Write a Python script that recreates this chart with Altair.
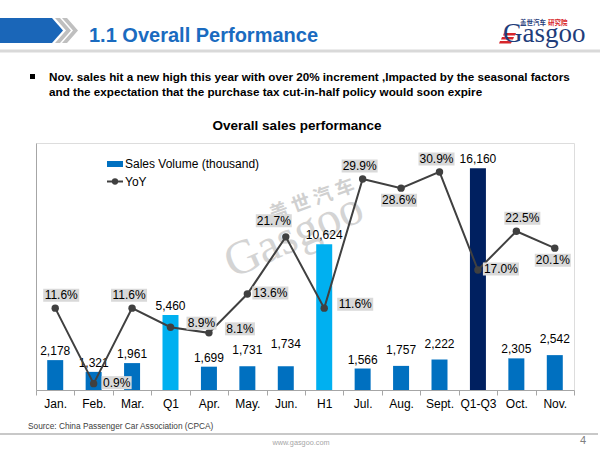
import altair as alt
import pandas as pd

# ---------------- data ----------------
categories = ["Jan.", "Feb.", "Mar.", "Q1", "Apr.", "May.", "Jun.", "H1",
              "Jul.", "Aug.", "Sept.", "Q1-Q3", "Oct.", "Nov."]
sales_volume = [2178, 1321, 1961, 5460, 1699, 1731, 1734, 10624,
                1566, 1757, 2222, 16160, 2305, 2542]
yoy_percent = [11.6, 0.9, 11.6, 8.9, 8.1, 13.6, 21.7, 11.6,
               29.9, 28.6, 30.9, 17.0, 22.5, 20.1]
period_type = ["Month", "Month", "Month", "Cumulative", "Month", "Month", "Month", "Cumulative",
               "Month", "Month", "Month", "YTD", "Month", "Month"]

# ---------------- label placement styles ----------------
yoy_label_place = ["aboveR", "right", "above", "rightF", "rightF", "right", "aboveL", "rightF",
                   "above", "below", "above", "right", "aboveR", "below"]
sales_label_lift = ["near", "near", "near", "near", "near", "mid", "far", "near",
                    "near", "mid", "mid", "near", "near", "mid"]
PLACE_OFFSETS = {"above": (-3, -13), "aboveR": (6, -13), "aboveL": (-12, -16),
                 "below": (-2, 12), "right": (23, -1), "rightF": (31, -4)}
LIFT_OFFSETS = {"near": -9, "mid": -16, "far": -22}

df = pd.DataFrame({
    "cat": categories,
    "sales": sales_volume,
    "yoy": [v / 100 for v in yoy_percent],
    "ptype": period_type,
    "yoy_label": [f"{v:.1f}%" for v in yoy_percent],
    "place": yoy_label_place,
    "lift": sales_label_lift,
})
df["nch"] = df["yoy_label"].str.len().astype(str)

FONT = "Liberation Sans"
OX, OY = 36, 143          # plot origin on the page
W, H = 538, 247           # plot area

x_enc = alt.X("cat:N", sort=categories,
              scale=alt.Scale(domain=categories, paddingInner=0, paddingOuter=0),
              axis=alt.Axis(title=None, labelAngle=0, labelFontSize=12, labelColor="#000000",
                            labelFont=FONT, labelPadding=3, domainColor="#A6A6A6",
                            tickColor="#A6A6A6", tickSize=5, tickBand="extent", grid=False))

y_sales_axis = alt.Y("sales:Q", scale=alt.Scale(domain=[0, 18000], nice=False),
                     axis=alt.Axis(title=None, labels=False, ticks=False, grid=False,
                                   domainColor="#A6A6A6"))
y_sales = alt.Y("sales:Q", scale=alt.Scale(domain=[0, 18000], nice=False), axis=None)
y_yoy = alt.Y("yoy:Q", scale=alt.Scale(domain=[0, 0.35], nice=False), axis=None)

base = alt.Chart(df)

bars = base.mark_bar(size=16).encode(
    x=x_enc, y=y_sales_axis,
    color=alt.Color("ptype:N", legend=None,
                    scale=alt.Scale(domain=["Month", "Cumulative", "YTD"],
                                    range=["#0070C0", "#00B0F0", "#002060"])))

bar_label_layers = []
for lift, dy in LIFT_OFFSETS.items():
    bar_label_layers.append(
        base.transform_filter(alt.datum.lift == lift)
        .mark_text(fontSize=12, font=FONT, color="#000000", dy=dy, baseline="middle")
        .encode(x=x_enc, y=y_sales, text=alt.Text("sales:Q", format=",")))

line = base.mark_line(color="#404040", strokeWidth=2).encode(x=x_enc, y=y_yoy)
dots = base.mark_point(filled=True, size=55, color="#404040", opacity=1).encode(x=x_enc, y=y_yoy)

box4 = "M-15,-6.5L15,-6.5L15,6.5L-15,6.5Z"
box5 = "M-18,-6.5L18,-6.5L18,6.5L-18,6.5Z"
yoy_label_layers = []
for place, (dx, dy) in PLACE_OFFSETS.items():
    sub = base.transform_filter(alt.datum.place == place)
    yoy_label_layers.append(
        sub.mark_point(size=4, filled=True, color="#D9D9D9", fill="#D9D9D9", opacity=1,
                       strokeWidth=0, xOffset=dx, yOffset=dy)
        .encode(x=x_enc, y=y_yoy,
                shape=alt.Shape("nch:N", legend=None,
                                scale=alt.Scale(domain=["4", "5"], range=[box4, box5]))))
    yoy_label_layers.append(
        sub.mark_text(fontSize=12, font=FONT, color="#000000", dx=dx, dy=dy, baseline="middle")
        .encode(x=x_enc, y=y_yoy, text="yoy_label:N"))

# ---------------- page decorations (pixel positions on the page) ----------------
one = alt.Chart(pd.DataFrame({"k": [0]}))


def txt(s, x, y, size, color="#000000", weight="normal", align="left",
        baseline="middle", font=FONT, angle=None, opacity=1):
    kw = dict(text=s, fontSize=size, color=color, fontWeight=weight, align=align,
              baseline=baseline, font=font, opacity=opacity)
    if angle is not None:
        kw["angle"] = angle
    return one.mark_text(**kw).encode(x=alt.value(x - OX), y=alt.value(y - OY))


def path(p, color):
    return one.mark_point(shape=p, size=4, filled=True, color=color, fill=color,
                          strokeWidth=0, opacity=1).encode(x=alt.value(-OX), y=alt.value(-OY))


def rect(x0, x1, y0, y1, color):
    return one.mark_rect(color=color).encode(
        x=alt.value(x0 - OX), x2=alt.value(x1 - OX), y=alt.value(y0 - OY), y2=alt.value(y1 - OY))


watermark = [
    txt("盖 世 汽 车", 312, 200, 19, color="#D0D0D0", weight="bold",
        align="center", font="Noto Sans CJK SC", angle=340),
    txt("Gasgoo", 294, 236, 48, color="#D4D4D4", align="center",
        font="Liberation Serif", angle=336),
]

header = [
    path("M0,18L52,18L63,30.5L52,43L0,43Z", "#1A66B8"),
    path("M55,18L60,18L71,30.5L60,43L55,43L66,30.5Z", "#BFBFBF"),
    path("M62,18L67,18L78,30.5L67,43L62,43L73,30.5Z", "#BFBFBF"),
    rect(0, 600, 49.5, 52.5, "#D9D9D9"),
    txt("1.1 Overall Performance", 89, 42, 20, color="#1A6BC0", weight="bold",
        baseline="alphabetic"),
    path("M504,33L516,33L515,35.5L503,35.5Z M502,37L514,37L513,39.5L501,39.5Z "
         "M500,41L512,41L511,43.5L499,43.5Z", "#D7262B"),
    txt("Gasgoo", 503, 42, 27, color="#1F3D7A", font="Liberation Serif",
        baseline="alphabetic"),
    txt("盖世汽车", 546, 23, 6.5, color="#1F3D7A", weight="bold", align="right",
        font="Noto Sans CJK SC"),
    txt("研究院", 548, 23, 6.5, color="#D7262B", weight="bold", font="Noto Sans CJK SC"),
    rect(30, 35, 74, 79, "#000000"),
    txt("Nov. sales hit a new high this year with over 20% increment ,Impacted by the seasonal factors",
        49, 77, 11.7, weight="bold"),
    txt("and the expectation that the purchase tax cut-in-half policy would soon expire",
        49, 92, 11.7, weight="bold"),
    txt("Overall sales performance", 297, 126, 13.5, weight="bold", align="center"),
]

legend = [
    rect(107, 123, 161, 167, "#0070C0"),
    txt("Sales Volume (thousand)", 125, 164, 12),
    one.mark_rule(color="#404040", strokeWidth=2).encode(
        x=alt.value(107 - OX), x2=alt.value(123 - OX), y=alt.value(181.5 - OY)),
    one.mark_point(filled=True, size=40, color="#404040", opacity=1).encode(
        x=alt.value(115 - OX), y=alt.value(181.5 - OY)),
    txt("YoY", 125, 181.5, 12),
]

footer = [
    txt("Source: China Passenger Car Association (CPCA)", 28, 427, 8.3, color="#404040"),
    rect(0, 598, 433, 435, "#C8C8C8"),
    txt("www.gasgoo.com", 301, 443, 7.3, color="#A6A6A6", align="center"),
    txt("4", 583, 441, 11, color="#808080", align="center"),
]

chart = alt.layer(
    *watermark, bars, *bar_label_layers, line, dots, *yoy_label_layers,
    *header, *legend, *footer
).resolve_scale(y="independent").properties(
    width=W, height=H,
    autosize=alt.AutoSizeParams(type="none"),
    padding={"left": OX, "top": OY, "right": 600 - OX - W, "bottom": 450 - OY - H},
).configure_view(stroke=None).configure(font=FONT, background="white")

chart.save("out.html", embed_options={"renderer": "svg", "actions": False})
